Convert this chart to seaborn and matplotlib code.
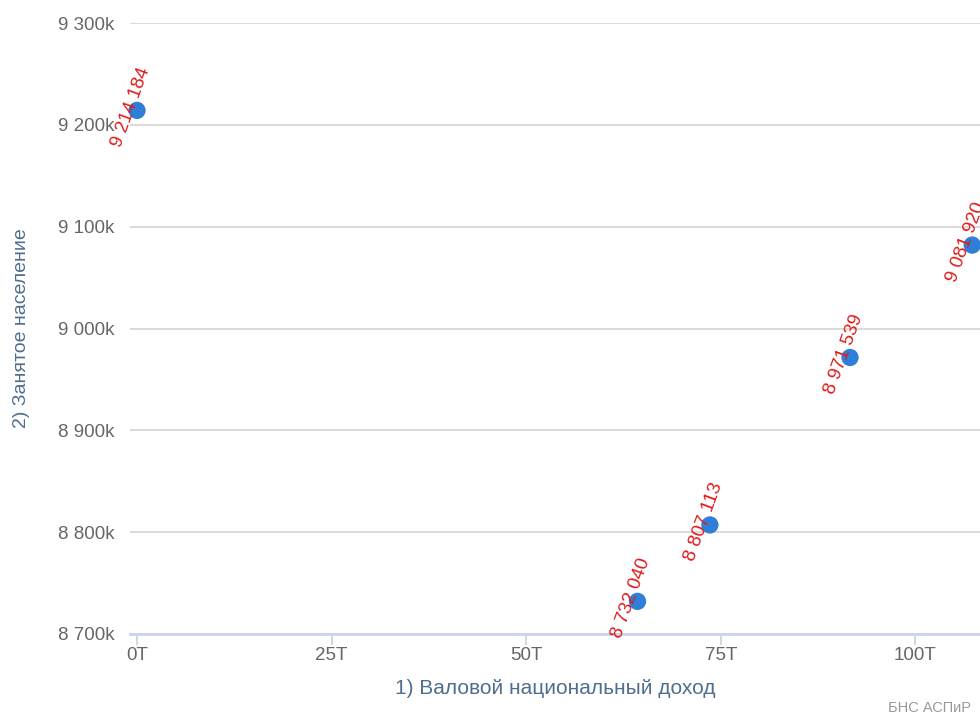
import matplotlib
matplotlib.use("Agg")
import matplotlib.pyplot as plt
import seaborn as sns
import pandas as pd
from matplotlib.ticker import FuncFormatter, FixedLocator

# Data
gni_trillions = [0.0, 64.3, 73.6, 91.6, 107.3]
employed = [9214184, 8732040, 8807113, 8971539, 9081920]
x_ticks = [0, 25, 50, 75, 100]
y_ticks = [8700000, 8800000, 8900000, 9000000, 9100000, 9200000, 9300000]
x_title = "1) Валовой национальный доход"
y_title = "2) Занятое население"
credits = "БНС АСПиР"

df = pd.DataFrame({"x": gni_trillions, "y": employed})

sns.set_theme(style="white")
plt.rcParams["font.family"] = ["Liberation Sans", "DejaVu Sans"]

fig = plt.figure(figsize=(9.8, 7.2), dpi=100)
ax = fig.add_axes([130 / 980, 86 / 720, 850 / 980, 611 / 720])

sns.scatterplot(data=df, x="x", y="y", ax=ax, s=155, color="#2f7ed8",
                edgecolor="none", zorder=3, clip_on=False, legend=False)

def sp(v):
    return f"{v:,}".replace(",", " ")

for xv, yv in zip(gni_trillions, employed):
    ax.annotate(sp(yv), (xv, yv), xytext=(-4.3, 2.2), textcoords="offset points",
                rotation=70, rotation_mode="anchor", ha="center", va="center",
                color="#e01b1b", fontsize=13.5, zorder=4, annotation_clip=False)

ax.set_xlim(-0.9, 108.3)
ax.set_ylim(8700000, 9300000)
ax.xaxis.set_major_locator(FixedLocator(x_ticks))
ax.yaxis.set_major_locator(FixedLocator(y_ticks))
ax.xaxis.set_major_formatter(FuncFormatter(lambda v, p: f"{int(v)}T"))
ax.yaxis.set_major_formatter(FuncFormatter(lambda v, p: sp(int(round(v / 1000))) + "k"))

ax.grid(axis="y", color="#d8d8d8", linewidth=1.3)
ax.grid(axis="x", visible=False)
for s in ["top", "right", "left"]:
    ax.spines[s].set_visible(False)
ax.spines["bottom"].set_color("#ccd6eb")
ax.spines["bottom"].set_linewidth(2)
ax.spines["bottom"].set_zorder(2)

ax.tick_params(axis="x", colors="#ccd6eb", length=8, width=1.3, direction="out",
               labelcolor="#666666", labelsize=13.5, pad=1, bottom=True)
ax.tick_params(axis="y", length=0, labelcolor="#666666", labelsize=13.5, pad=11)

ax.set_xlabel(x_title, color="#4e6e8e", fontsize=15, labelpad=11)
ax.set_ylabel(y_title, color="#4e6e8e", fontsize=14, labelpad=20)

fig.text(888 / 980, 8 / 720, credits, color="#999999", fontsize=10.5, ha="left", va="baseline")

fig.savefig("out.png", dpi=100, facecolor="white")
